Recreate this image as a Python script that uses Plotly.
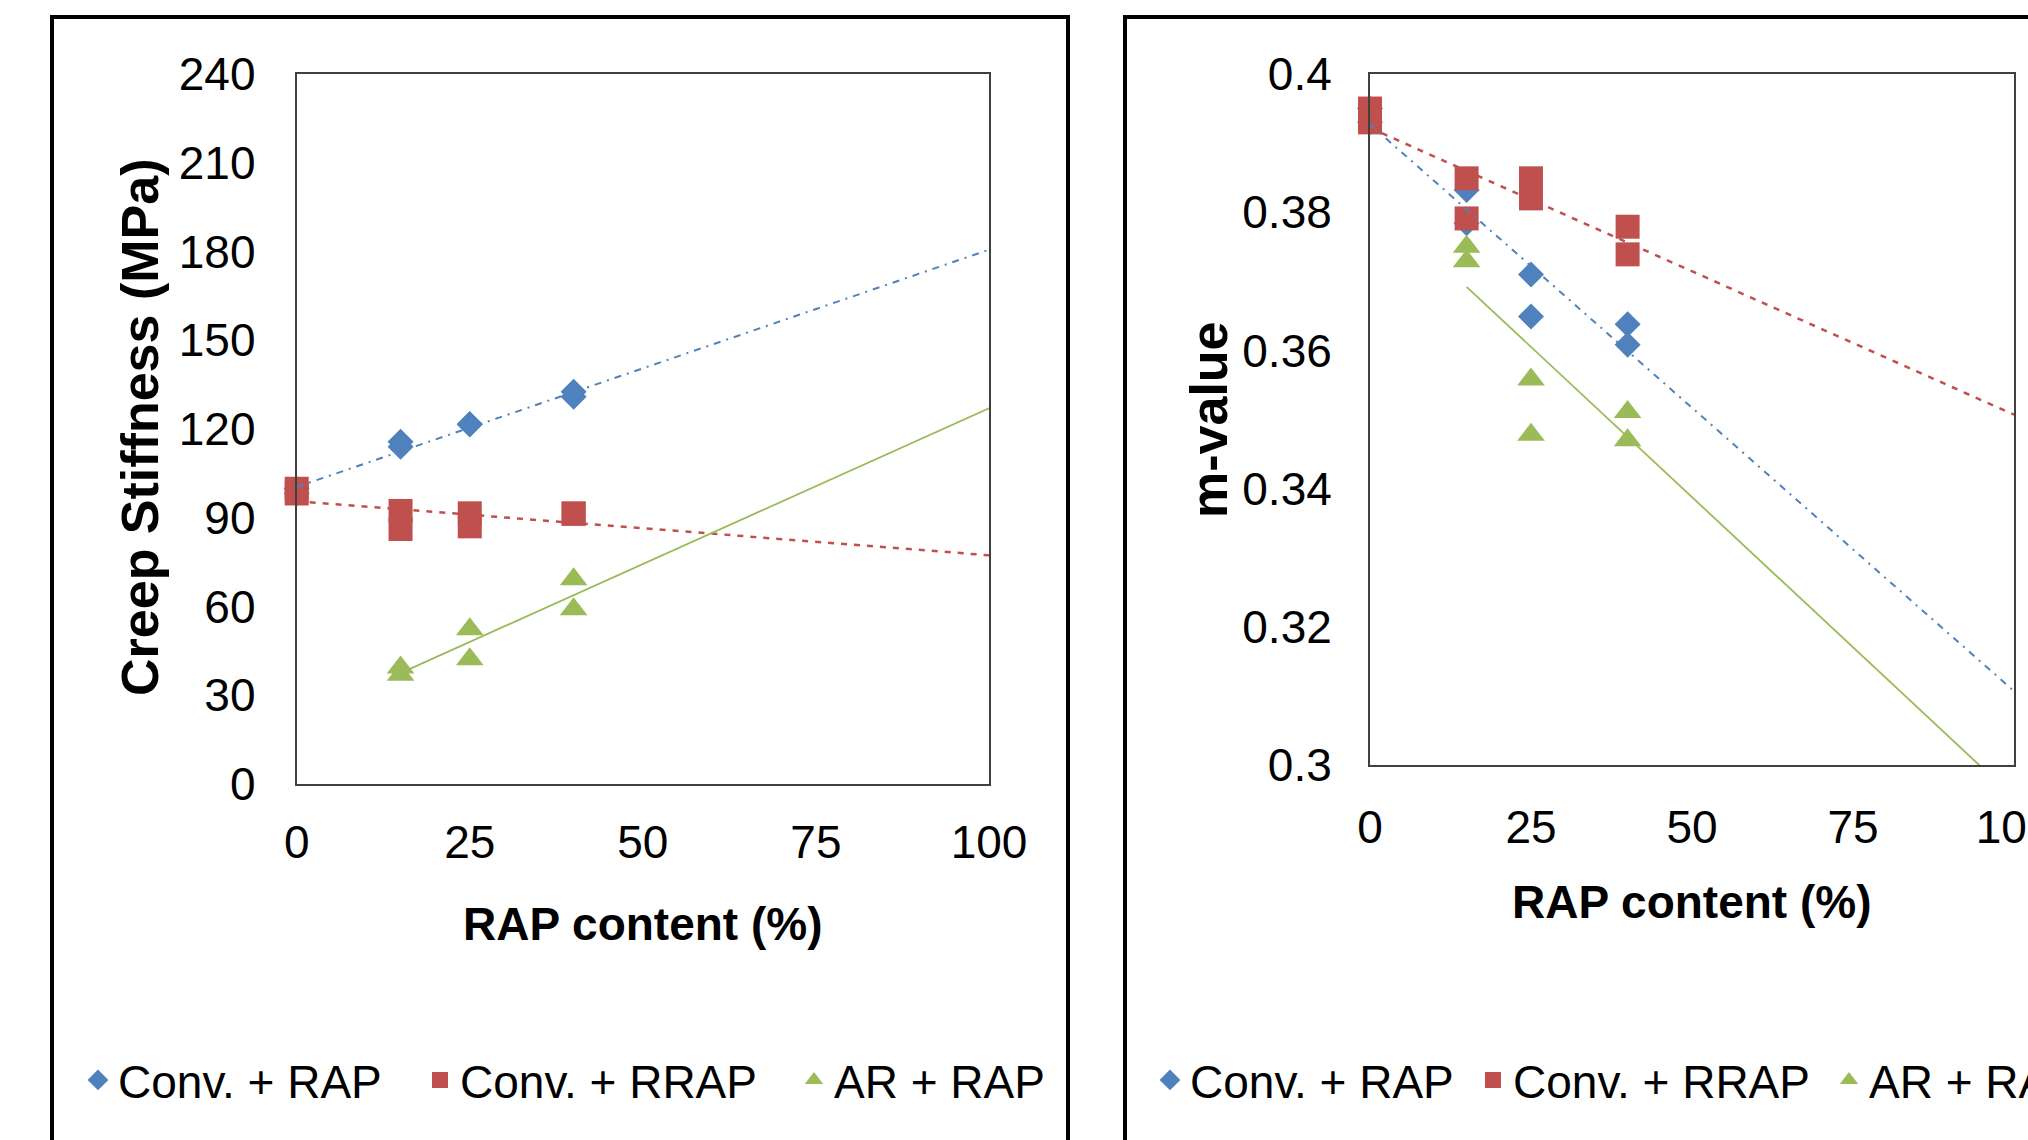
import plotly.graph_objects as go

W, H = 2028, 1140

# ---- data -------------------------------------------------------------
series_names = ["Conv. + RAP", "Conv. + RRAP", "AR + RAP"]
series_colors = ["#4F81BD", "#C0504D", "#9BBB59"]
series_symbols = ["diamond", "square", "triangle-up"]

# RAP content (%) of each tested specimen
conv_rap_x = [0, 0, 15, 15, 25, 25, 40, 40]
conv_rrap_x = [0, 0, 15, 15, 25, 25, 40, 40]
ar_rap_x = [15, 15, 25, 25, 40, 40]

# creep stiffness (MPa)
conv_rap_stiffness = [99.8, 98.2, 115.7, 114.0, 121.7, 121.5, 132.6, 130.9]
conv_rrap_stiffness = [99.8, 98.2, 92.3, 86.2, 91.5, 87.1, 91.5, 91.3]
ar_rap_stiffness = [39.4, 36.9, 52.3, 42.2, 69.2, 59.1]

# m-value
conv_rap_m = [0.3950, 0.3930, 0.3832, 0.3784, 0.3710, 0.3649, 0.3638, 0.3608]
conv_rrap_m = [0.3950, 0.3930, 0.3849, 0.3791, 0.3849, 0.3820, 0.3779, 0.3739]
ar_rap_m = [0.3750, 0.3729, 0.3558, 0.3478, 0.3511, 0.3470]

# linear trend lines (start and end RAP content, and the trend values there)
trend_x = [[0, 100], [0, 100], [15, 100]]
stiffness_trend = [[100.4, 180.6], [95.6, 77.3], [37.5, 127.0]]
m_trend = [[0.3927, 0.3107], [0.3922, 0.3507], [0.3692, 0.2953]]

x_ticks = [0, 25, 50, 75, 100]
stiffness_ticks = [0, 30, 60, 90, 120, 150, 180, 210, 240]
m_ticks = [0.3, 0.32, 0.34, 0.36, 0.38, 0.4]

x_all = [conv_rap_x, conv_rrap_x, ar_rap_x]
stiffness_all = [conv_rap_stiffness, conv_rrap_stiffness, ar_rap_stiffness]
m_all = [conv_rap_m, conv_rrap_m, ar_rap_m]

# ---- styling ----------------------------------------------------------
FONT = "Liberation Sans, Arial"
marker_sizes = [20, 24, 24]
trend_dash = ["7px,6px,2px,6px", "6px,7px", "solid"]
trend_width = [2, 2.5, 1.8]


def px(x):
    return x / W


def py(y):
    return 1 - y / H


fig = go.Figure()

panels = [
    dict(xa="x", ya="y", ys=stiffness_all, trend=stiffness_trend,
         legends=["legend", "legend2", "legend3"]),
    dict(xa="x2", ya="y2", ys=m_all, trend=m_trend,
         legends=["legend4", "legend5", "legend6"]),
]

for p in panels:
    # markers first, so the trend lines sit on top of them
    for i, name in enumerate(series_names):
        fig.add_trace(go.Scatter(
            x=x_all[i], y=p["ys"][i], mode="markers", name=name,
            xaxis=p["xa"], yaxis=p["ya"], legend=p["legends"][i],
            cliponaxis=False,
            marker=dict(symbol=series_symbols[i], size=marker_sizes[i],
                        color=series_colors[i], line=dict(width=0)),
        ))
    # linear trend lines, extended forward to 100 % RAP
    for i, name in enumerate(series_names):
        fig.add_trace(go.Scatter(
            x=trend_x[i], y=p["trend"][i], mode="lines",
            xaxis=p["xa"], yaxis=p["ya"], showlegend=False, hoverinfo="skip",
            line=dict(color=series_colors[i], width=trend_width[i],
                      dash=trend_dash[i]),
        ))

axis_common = dict(
    showgrid=False, zeroline=False, showline=True, mirror=True,
    linecolor="#404040", linewidth=2, ticks="outside", ticklen=0,
    tickfont=dict(family=FONT, size=46, color="black"),
)

legend_common = dict(orientation="h", y=py(1080), xanchor="left", yanchor="middle",
                     bgcolor="rgba(0,0,0,0)",
                     font=dict(family=FONT, size=46, color="black"))
legend_left_px = [78, 420, 794, 1150, 1473, 1829]
legend_layout = {}
for k, lx in enumerate(legend_left_px):
    key = "legend" if k == 0 else f"legend{k + 1}"
    legend_layout[key] = dict(x=px(lx), **legend_common)

fig.update_layout(
    width=W, height=H,
    margin=dict(l=0, r=0, t=0, b=0, autoexpand=False),
    paper_bgcolor="white", plot_bgcolor="white",
    xaxis=dict(domain=[px(296.7), px(989)], range=[0, 100], tickvals=x_ticks,
               anchor="y", ticklabelstandoff=17, **axis_common),
    yaxis=dict(domain=[py(784), py(74)], range=[0, 240], tickvals=stiffness_ticks,
               anchor="x", ticklabelstandoff=30, **axis_common),
    xaxis2=dict(domain=[px(1370), px(2014)], range=[0, 100], tickvals=x_ticks,
                anchor="y2", ticklabelstandoff=21, ticklabeloverflow="allow",
                **axis_common),
    yaxis2=dict(domain=[py(765), py(74)], range=[0.3, 0.4], tickvals=m_ticks,
                anchor="x2", ticklabelstandoff=27, **axis_common),
    showlegend=True,
    **legend_layout,
)

# chart frames around each panel
for x0, x1 in [(52, 1068), (1125, 2110)]:
    fig.add_shape(type="rect", xref="paper", yref="paper",
                  x0=px(x0), x1=px(x1), y0=py(1170), y1=py(17),
                  line=dict(color="black", width=4), fillcolor="rgba(0,0,0,0)")

title_font = dict(family=FONT, size=52, color="black")
xtitle_font = dict(family=FONT, size=46, color="black")
annotations = [
    dict(text="<b>Creep Stiffness (MPa)</b>", x=px(140), y=py(428), textangle=-90,
         font=title_font),
    dict(text="<b>m-value</b>", x=px(1209), y=py(420), textangle=-90,
         font=title_font),
    dict(text="<b>RAP content (%)</b>", x=px(643), y=py(924), font=xtitle_font),
    dict(text="<b>RAP content (%)</b>", x=px(1692), y=py(902), font=xtitle_font),
]
for a in annotations:
    fig.add_annotation(xref="paper", yref="paper", showarrow=False,
                       xanchor="center", yanchor="middle", **a)

fig.write_html("out.html", config={"displayModeBar": False},
               post_script="document.body.style.margin='0';")
